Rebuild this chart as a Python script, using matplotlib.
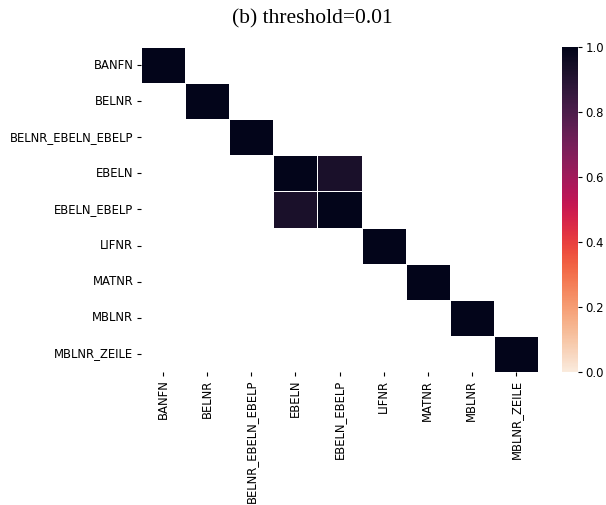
import numpy as np
import matplotlib
matplotlib.use("Agg")
import matplotlib.pyplot as plt
import seaborn as sns

# column names (same order on both axes)
labels = ["BANFN", "BELNR", "BELNR_EBELN_EBELP", "EBELN", "EBELN_EBELP",
          "LIFNR", "MATNR", "MBLNR", "MBLNR_ZEILE"]
# off-diagonal correlation EBELN <-> EBELN_EBELP
pair = ("EBELN", "EBELN_EBELP")
pair_value = 0.93
threshold = 0.01

n = len(labels)
corr = np.eye(n)
i, j = labels.index(pair[0]), labels.index(pair[1])
corr[i, j] = pair_value
corr[j, i] = pair_value
mask = corr < threshold

fig = plt.figure(figsize=(6.06, 5.05), dpi=100)
ax = fig.add_axes([0.2327, 0.2634, 0.6551, 0.6436])
cax = fig.add_axes([0.9274, 0.2634, 0.0264, 0.6436])

sns.heatmap(corr, mask=mask, cmap="rocket_r", vmin=0, vmax=1,
            linewidths=0.6, linecolor="white", xticklabels=labels,
            yticklabels=labels, ax=ax, cbar_ax=cax)

ax.tick_params(labelsize=8.4, length=3, pad=2.5)
cax.tick_params(labelsize=8.4, length=3, pad=2.5)
for t in ax.get_xticklabels():
    t.set_rotation(90)
for t in ax.get_yticklabels():
    t.set_rotation(0)

fig.text(312 / 606, 1 - 19 / 505, f"(b) threshold={threshold}",
         ha="center", va="center", fontsize=15.5, family="Liberation Serif")

fig.savefig("out.png", dpi=100)
plt.close(fig)
